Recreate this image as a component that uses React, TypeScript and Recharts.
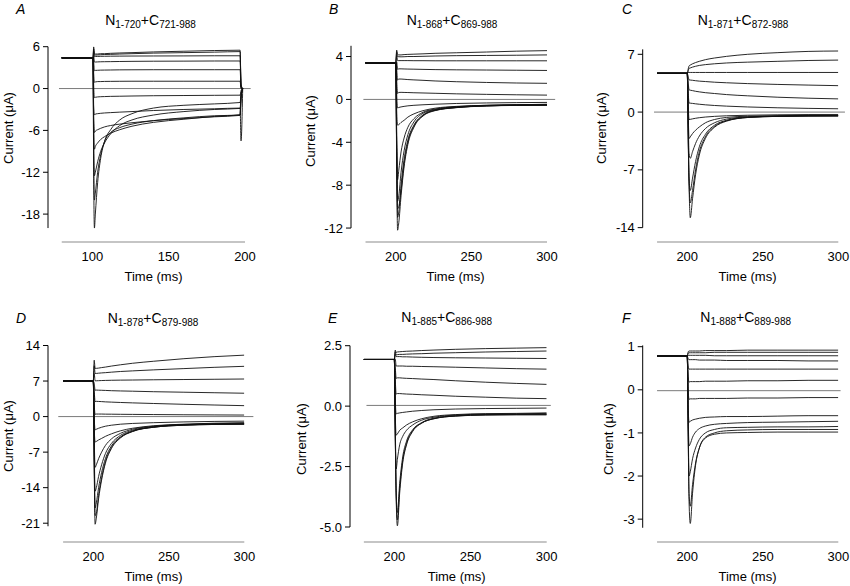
import React from 'react';
import { LineChart, Line, XAxis, YAxis, ReferenceLine } from 'recharts';

const FONT = '"Liberation Sans", Arial, Helvetica, sans-serif';
const YW = 40; // y axis area width
const XH = 30; // x axis area height

// sample times (ms) - panel A pulse is 100..197 ms, the others 200..300 ms
const timesA = [80, 100.5, 100.9, 101.4, 102, 103.5, 105.5, 108, 112, 118, 126, 140, 160, 180, 196.8, 197.4, 198.5];
const timesStep = [180, 200, 200.6, 201.2, 202, 203.5, 205.5, 208, 212, 218, 226, 240, 260, 280, 300];

// current traces (uA), one row per voltage step
const tracesA = [
  [4.4, 4.4, 6.0, 5.0, 4.95, 4.95, 5.0, 5.0, 5.05, 5.1, 5.15, 5.25, 5.35, 5.45, 5.5, 0.6, 0],
  [4.4, 4.4, 5.7, 4.8, 4.8, 4.82, 4.85, 4.88, 4.9, 4.95, 5.0, 5.08, 5.15, 5.22, 5.3, 0.4, 0],
  [4.4, 4.4, 5.4, 4.6, 4.6, 4.6, 4.62, 4.63, 4.64, 4.65, 4.66, 4.67, 4.68, 4.7, 4.7, 0.3, 0],
  [4.4, 4.4, 4.8, 3.8, 3.8, 3.82, 3.84, 3.85, 3.86, 3.88, 3.9, 3.92, 3.93, 3.95, 3.95, 0.2, 0],
  [4.4, 4.4, 3.8, 2.55, 2.6, 2.62, 2.64, 2.65, 2.66, 2.68, 2.69, 2.7, 2.7, 2.7, 2.7, 0.1, 0],
  [4.4, 4.4, 2.2, 0.9, 0.95, 1.0, 1.0, 1.02, 1.03, 1.04, 1.05, 1.05, 1.05, 1.05, 1.05, 0, 0],
  [4.4, 4.4, 0.5, -1.3, -1.25, -1.2, -1.17, -1.15, -1.12, -1.1, -1.07, -1.03, -1.0, -0.97, -0.95, -0.3, 0],
  [4.4, 4.4, -2.5, -3.8, -3.65, -3.6, -3.55, -3.5, -3.45, -3.38, -3.3, -3.15, -3.0, -2.9, -2.8, -7.5, 0],
  [4.4, 4.4, -4, -6.3, -6.1, -5.9, -5.7, -5.5, -5.3, -5.1, -4.9, -4.6, -4.3, -4.05, -3.85, -1.5, 0],
  [4.4, 4.4, -5, -8.7, -8.3, -7.8, -7.3, -6.9, -6.4, -5.9, -5.4, -4.85, -4.4, -4.0, -3.75, -1.2, 0],
  [4.4, 4.4, -7, -12.5, -12, -10.5, -9.0, -7.8, -6.5, -5.3, -4.5, -3.8, -3.3, -3.0, -2.85, -1, 0],
  [4.4, 4.4, -12, -20, -18, -13.5, -10, -7.6, -5.9, -4.5, -3.6, -2.8, -2.4, -2.2, -2.0, -0.8, 0],
  [4.4, 4.4, -10, -16, -15, -12, -9.5, -7.6, -6.3, -5.6, -5.1, -4.6, -4.2, -3.9, -3.8, -1.3, 0],
];

const tracesB = [
  [3.4, 3.4, 4.6, 4.2, 4.15, 4.15, 4.18, 4.2, 4.22, 4.25, 4.3, 4.35, 4.42, 4.5, 4.55],
  [3.4, 3.4, 4.4, 4.0, 3.98, 3.97, 3.98, 4.0, 4.0, 4.02, 4.05, 4.08, 4.1, 4.12, 4.15],
  [3.4, 3.4, 4.1, 3.62, 3.62, 3.62, 3.62, 3.62, 3.61, 3.61, 3.6, 3.6, 3.6, 3.6, 3.6],
  [3.4, 3.4, 3.5, 2.8, 2.85, 2.85, 2.84, 2.83, 2.82, 2.8, 2.78, 2.76, 2.74, 2.72, 2.7],
  [3.4, 3.4, 2.8, 1.8, 1.9, 1.9, 1.88, 1.85, 1.82, 1.78, 1.72, 1.65, 1.58, 1.53, 1.5],
  [3.4, 3.4, 1.8, 0.55, 0.65, 0.66, 0.65, 0.64, 0.62, 0.6, 0.57, 0.52, 0.47, 0.43, 0.4],
  [3.4, 3.4, 0.5, -0.8, -0.75, -0.7, -0.65, -0.6, -0.55, -0.5, -0.45, -0.38, -0.33, -0.3, -0.28],
  [3.4, 3.4, -1, -2.4, -2.35, -2.15, -1.95, -1.65, -1.35, -1.05, -0.82, -0.65, -0.55, -0.5, -0.48],
  [3.4, 3.4, -3, -7.5, -6.6, -4.9, -3.6, -2.6, -1.8, -1.2, -0.9, -0.68, -0.55, -0.5, -0.45],
  [3.4, 3.4, -4, -9.5, -9.0, -6.8, -4.8, -3.3, -2.1, -1.3, -0.95, -0.72, -0.57, -0.52, -0.5],
  [3.4, 3.4, -5, -11, -10.5, -8.0, -5.6, -3.8, -2.4, -1.45, -1.0, -0.75, -0.6, -0.55, -0.52],
  [3.4, 3.4, -6, -12.2, -11.5, -9.0, -6.3, -4.2, -2.6, -1.55, -1.05, -0.77, -0.62, -0.56, -0.55],
  [3.4, 3.4, -5, -10.2, -10, -8.5, -6.0, -4.0, -2.5, -1.5, -1.02, -0.76, -0.6, -0.55, -0.54],
];

const tracesC = [
  [4.7, 4.7, 5.2, 5.6, 5.7, 5.85, 6.0, 6.15, 6.35, 6.55, 6.75, 7.0, 7.2, 7.35, 7.4],
  [4.7, 4.7, 5.0, 5.3, 5.35, 5.45, 5.55, 5.65, 5.75, 5.85, 5.95, 6.05, 6.15, 6.25, 6.3],
  [4.7, 4.7, 4.8, 4.8, 4.8, 4.8, 4.8, 4.8, 4.8, 4.8, 4.8, 4.8, 4.8, 4.8, 4.8],
  [4.7, 4.7, 4.3, 3.9, 3.88, 3.85, 3.8, 3.75, 3.7, 3.62, 3.55, 3.45, 3.35, 3.27, 3.2],
  [4.7, 4.7, 3.6, 2.7, 2.65, 2.6, 2.52, 2.45, 2.35, 2.25, 2.12, 1.97, 1.8, 1.68, 1.6],
  [4.7, 4.7, 2.5, 1.1, 1.08, 1.05, 1.0, 0.95, 0.88, 0.8, 0.72, 0.62, 0.52, 0.45, 0.4],
  [4.7, 4.7, 1.0, -0.9, -0.88, -0.82, -0.75, -0.68, -0.6, -0.52, -0.45, -0.38, -0.33, -0.3, -0.3],
  [4.7, 4.7, 0, -3.2, -3.0, -2.6, -2.2, -1.8, -1.3, -0.9, -0.65, -0.5, -0.45, -0.4, -0.4],
  [4.7, 4.7, -1, -5.0, -5.6, -4.8, -3.8, -2.9, -2.0, -1.3, -0.85, -0.58, -0.48, -0.44, -0.42],
  [4.7, 4.7, -2, -8.0, -9.5, -8.0, -6.0, -4.2, -2.7, -1.6, -1.0, -0.62, -0.5, -0.46, -0.45],
  [4.7, 4.7, -2.5, -8.5, -11, -9.5, -7.0, -4.8, -3.0, -1.75, -1.05, -0.65, -0.52, -0.47, -0.46],
  [4.7, 4.7, -3, -9.0, -12.8, -10.5, -7.6, -5.2, -3.2, -1.85, -1.1, -0.66, -0.52, -0.48, -0.47],
];

const tracesD = [
  [7, 7, 11.1, 9.5, 9.5, 9.55, 9.65, 9.75, 9.95, 10.2, 10.5, 10.9, 11.4, 11.8, 12.1],
  [7, 7, 10, 8.5, 8.5, 8.55, 8.6, 8.65, 8.75, 8.88, 9.0, 9.2, 9.45, 9.7, 9.9],
  [7, 7, 8.5, 7.05, 7.05, 7.07, 7.1, 7.12, 7.15, 7.18, 7.2, 7.25, 7.3, 7.35, 7.4],
  [7, 7, 6.5, 5.2, 5.22, 5.2, 5.18, 5.15, 5.1, 5.05, 5.0, 4.9, 4.8, 4.7, 4.6],
  [7, 7, 5, 2.95, 3.0, 2.98, 2.95, 2.9, 2.85, 2.78, 2.7, 2.58, 2.42, 2.28, 2.15],
  [7, 7, 2.5, 0.45, 0.5, 0.5, 0.5, 0.48, 0.47, 0.45, 0.43, 0.4, 0.36, 0.33, 0.3],
  [7, 7, 0, -2.6, -2.5, -2.3, -2.1, -1.9, -1.7, -1.5, -1.35, -1.2, -1.05, -0.95, -0.9],
  [7, 7, -2, -5, -4.9, -4.6, -4.3, -3.9, -3.4, -2.8, -2.3, -1.8, -1.5, -1.3, -1.2],
  [7, 7, -4, -10, -9.5, -8.3, -7.0, -5.7, -4.4, -3.3, -2.5, -1.9, -1.55, -1.4, -1.3],
  [7, 7, -6, -14.7, -14, -11.8, -9.5, -7.3, -5.3, -3.7, -2.7, -2.0, -1.6, -1.45, -1.4],
  [7, 7, -8, -18, -17, -14, -11, -8.3, -5.8, -4.0, -2.85, -2.05, -1.65, -1.5, -1.45],
  [7, 7, -10, -21.2, -20, -16.2, -12.5, -9.2, -6.3, -4.2, -2.95, -2.1, -1.7, -1.55, -1.5],
  [7, 7, -9, -19.5, -19, -15.5, -12, -8.9, -6.1, -4.1, -2.9, -2.1, -1.7, -1.55, -1.5],
];

const tracesE = [
  [1.93, 1.93, 2.32, 2.22, 2.24, 2.25, 2.26, 2.27, 2.28, 2.3, 2.32, 2.35, 2.38, 2.4, 2.42],
  [1.93, 1.93, 2.25, 2.12, 2.13, 2.14, 2.14, 2.15, 2.16, 2.17, 2.19, 2.21, 2.24, 2.26, 2.28],
  [1.93, 1.93, 2.15, 2.05, 2.05, 2.05, 2.04, 2.04, 2.03, 2.02, 2.01, 2.0, 1.99, 1.98, 1.97],
  [1.93, 1.93, 1.95, 1.66, 1.66, 1.66, 1.66, 1.65, 1.65, 1.64, 1.63, 1.61, 1.58, 1.55, 1.53],
  [1.93, 1.93, 1.6, 1.15, 1.17, 1.17, 1.16, 1.15, 1.14, 1.12, 1.1, 1.05, 0.99, 0.94, 0.9],
  [1.93, 1.93, 1.1, 0.5, 0.52, 0.52, 0.51, 0.5, 0.49, 0.47, 0.45, 0.41, 0.37, 0.33, 0.31],
  [1.93, 1.93, 0.3, -0.32, -0.3, -0.28, -0.26, -0.24, -0.21, -0.18, -0.15, -0.12, -0.1, -0.09, -0.08],
  [1.93, 1.93, -0.3, -1.2, -1.15, -1.0, -0.9, -0.78, -0.65, -0.52, -0.42, -0.35, -0.31, -0.3, -0.28],
  [1.93, 1.93, -0.8, -2.6, -2.2, -1.6, -1.25, -1.0, -0.78, -0.58, -0.46, -0.37, -0.33, -0.32, -0.3],
  [1.93, 1.93, -1, -3.5, -4.4, -3.2, -2.1, -1.45, -0.98, -0.68, -0.5, -0.4, -0.35, -0.34, -0.33],
  [1.93, 1.93, -1.2, -3.8, -4.95, -3.6, -2.35, -1.6, -1.05, -0.7, -0.52, -0.41, -0.36, -0.35, -0.35],
  [1.93, 1.93, -1.1, -3.6, -4.7, -3.4, -2.25, -1.55, -1.02, -0.7, -0.52, -0.41, -0.37, -0.36, -0.36],
];

const tracesF = [
  [0.78, 0.78, 0.88, 0.9, 0.9, 0.9, 0.9, 0.9, 0.91, 0.91, 0.91, 0.92, 0.92, 0.92, 0.92],
  [0.78, 0.78, 0.85, 0.86, 0.86, 0.86, 0.86, 0.86, 0.86, 0.87, 0.87, 0.87, 0.87, 0.87, 0.87],
  [0.78, 0.78, 0.79, 0.8, 0.8, 0.8, 0.8, 0.8, 0.8, 0.79, 0.79, 0.79, 0.79, 0.79, 0.79],
  [0.78, 0.78, 0.72, 0.7, 0.7, 0.7, 0.7, 0.69, 0.69, 0.69, 0.68, 0.68, 0.68, 0.67, 0.67],
  [0.78, 0.78, 0.55, 0.48, 0.48, 0.48, 0.48, 0.48, 0.48, 0.48, 0.48, 0.48, 0.48, 0.48, 0.48],
  [0.78, 0.78, 0.3, 0.18, 0.19, 0.19, 0.19, 0.19, 0.2, 0.2, 0.2, 0.21, 0.21, 0.22, 0.22],
  [0.78, 0.78, 0, -0.22, -0.21, -0.21, -0.21, -0.2, -0.2, -0.2, -0.2, -0.19, -0.19, -0.18, -0.18],
  [0.78, 0.78, -0.4, -0.75, -0.73, -0.7, -0.68, -0.66, -0.64, -0.63, -0.62, -0.62, -0.61, -0.6, -0.6],
  [0.78, 0.78, -0.6, -1.3, -1.25, -1.1, -0.98, -0.9, -0.84, -0.8, -0.78, -0.76, -0.75, -0.74, -0.73],
  [0.78, 0.78, -0.8, -2.0, -1.9, -1.6, -1.35, -1.15, -1.0, -0.92, -0.88, -0.87, -0.86, -0.86, -0.85],
  [0.78, 0.78, -1, -2.6, -3.1, -2.4, -1.75, -1.35, -1.1, -1.0, -0.95, -0.93, -0.92, -0.92, -0.92],
  [0.78, 0.78, -0.9, -2.4, -2.7, -2.2, -1.7, -1.35, -1.12, -1.03, -1.0, -0.99, -0.98, -0.98, -0.98],
];

const xTicksA = [100, 150, 200];
const xTicksStep = [200, 250, 300];
const yTicksA = [6, 0, -6, -12, -18];
const yTicksB = [4, 0, -4, -8, -12];
const yTicksC = [7, 0, -7, -14];
const yTicksD = [14, 7, 0, -7, -14, -21];
const yTicksE = [2.5, 0, -2.5, -5];
const yTicksF = [1, 0, -1, -2, -3];

type Panel = {
  letter: string;
  nSub: string;
  cSub: string;
  times: number[];
  traces: number[][];
  xTicks: number[];
  yTicks: number[];
  fmt?: (v: number) => string;
  box: [number, number, number, number];
  plot: [number, number, number, number];
  xDomain: [number, number];
  yDomain: [number, number];
  xAxisRange: [number, number];
  yAxisRange: [number, number];
  zero: [number, number, number];
  title: [number, number];
  letterPos: [number, number];
  ylab: [number, number];
  xlab: [number, number];
};

const panels: Panel[] = [
  {
    letter: 'A', nSub: '1-720', cSub: '721-988', times: timesA, traces: tracesA,
    xTicks: xTicksA, yTicks: yTicksA,
    box: [0, 0, 290, 293], plot: [48, 245, 46.7, 242],
    xDomain: [71, 200], yDomain: [-22, 6], xAxisRange: [80, 200], yAxisRange: [-20, 6],
    zero: [78.2, 203.7, 0], title: [150.5, 25], letterPos: [16, 14], ylab: [13, 128], xlab: [153.5, 281],
  },
  {
    letter: 'B', nSub: '1-868', cSub: '869-988', times: timesStep, traces: tracesB,
    xTicks: xTicksStep, yTicks: yTicksB,
    box: [290, 0, 285, 293], plot: [351, 547, 45.8, 242],
    xDomain: [170.4, 300], yDomain: [-13.3, 5], xAxisRange: [180, 300], yAxisRange: [-12, 5],
    zero: [178.6, 305.4, 0], title: [452, 25], letterPos: [329, 14], ylab: [315, 131], xlab: [455.5, 281],
  },
  {
    letter: 'C', nSub: '1-871', cSub: '872-988', times: timesStep, traces: tracesC,
    xTicks: xTicksStep, yTicks: yTicksC,
    box: [575, 0, 275, 293], plot: [642.7, 838.3, 46.05, 242],
    xDomain: [170.5, 300], yDomain: [-15.74, 8], xAxisRange: [180, 300], yAxisRange: [-14, 7.6],
    zero: [178, 304.4, 0], title: [743, 25], letterPos: [622, 14], ylab: [606, 128], xlab: [747.5, 281],
  },
  {
    letter: 'D', nSub: '1-878', cSub: '879-988', times: timesStep, traces: tracesD,
    xTicks: xTicksStep, yTicks: yTicksD,
    box: [0, 293, 290, 293], plot: [48, 244.3, 345.5, 542],
    xDomain: [170, 300], yDomain: [-24.7, 14], xAxisRange: [180, 300], yAxisRange: [-21.6, 14],
    zero: [176.8, 306, 0], title: [153, 323], letterPos: [16, 323], ylab: [13, 436], xlab: [153.5, 581],
  },
  {
    letter: 'E', nSub: '1-885', cSub: '886-988', times: timesStep, traces: tracesE,
    xTicks: xTicksStep, yTicks: yTicksE, fmt: (v) => v.toFixed(1),
    box: [290, 293, 285, 293], plot: [350, 546.7, 345.7, 542],
    xDomain: [170.9, 300], yDomain: [-5.62, 2.5], xAxisRange: [180, 300], yAxisRange: [-5, 2.5],
    zero: [181.7, 302.7, 0.03], title: [446.7, 322], letterPos: [328, 323], ylab: [306, 439], xlab: [456.7, 581],
  },
  {
    letter: 'F', nSub: '1-888', cSub: '889-988', times: timesStep, traces: tracesF,
    xTicks: xTicksStep, yTicks: yTicksF,
    box: [575, 293, 275, 293], plot: [642.7, 838.3, 346.7, 542],
    xDomain: [170.5, 300], yDomain: [-3.53, 1], xAxisRange: [180, 300], yAxisRange: [-3.2, 1.03],
    zero: [180, 301.5, -0.02], title: [745.7, 322], letterPos: [622, 323], ylab: [613, 439], xlab: [747.5, 581],
  },
];

const tickStyle = { fontSize: 13, fill: '#000', fontFamily: FONT };

function TracePanel({ p }: { p: Panel }) {
  const [bl, bt, bw, bh] = p.box;
  const [x0, x1, y0, y1] = p.plot;
  const rows = p.times.map((t, i) => {
    const r: Record<string, number> = { t };
    p.traces.forEach((tr, k) => {
      r['s' + k] = tr[i];
    });
    return r;
  });
  const margin = {
    top: y0 - bt,
    left: x0 - bl - YW,
    right: bl + bw - x1,
    bottom: bt + bh - y1 - XH,
  };

  return (
    <div style={{ position: 'absolute', left: bl, top: bt }}>
      <LineChart width={bw} height={bh} data={rows} margin={margin}>
        <XAxis
          type="number"
          dataKey="t"
          domain={p.xDomain}
          allowDataOverflow
          ticks={p.xTicks}
          interval={0}
          axisLine={false}
          tickLine={false}
          tickSize={0}
          tickMargin={9.5}
          height={XH}
          tick={tickStyle}
        />
        <YAxis
          type="number"
          domain={p.yDomain}
          allowDataOverflow
          ticks={p.yTicks}
          interval={0}
          axisLine={false}
          tickLine={{ stroke: '#000' }}
          tickSize={5}
          tickMargin={3}
          width={YW}
          tick={tickStyle}
          tickFormatter={p.fmt ?? ((v: number) => String(v))}
        />
        {/* offset axes, drawn as segments */}
        <ReferenceLine
          segment={[{ x: p.xDomain[0], y: p.yAxisRange[0] }, { x: p.xDomain[0], y: p.yAxisRange[1] }]}
          stroke="#000"
          strokeWidth={1}
          ifOverflow="visible"
        />
        <ReferenceLine
          segment={[{ x: p.xAxisRange[0], y: p.yDomain[0] }, { x: p.xAxisRange[1], y: p.yDomain[0] }]}
          stroke="#8c8c8c"
          strokeWidth={1.2}
          ifOverflow="visible"
        />
        <ReferenceLine
          segment={[{ x: p.zero[0], y: p.zero[2] }, { x: p.zero[1], y: p.zero[2] }]}
          stroke="#7a7a7a"
          strokeWidth={1}
          ifOverflow="visible"
        />
        {p.traces.map((_, k) => (
          <Line
            key={k}
            dataKey={'s' + k}
            type="monotone"
            stroke="#111"
            strokeWidth={0.9}
            dot={false}
            isAnimationActive={false}
          />
        ))}
      </LineChart>
    </div>
  );
}

export default function App() {
  return (
    <div style={{ position: 'absolute', left: 0, top: 0, width: 850, height: 586, background: '#fff', fontFamily: FONT }}>
      {panels.map((p) => (
        <TracePanel key={p.letter} p={p} />
      ))}
      <svg width={850} height={586} style={{ position: 'absolute', left: 0, top: 0, pointerEvents: 'none' }} fontFamily={FONT}>
        {panels.map((p) => (
          <g key={p.letter}>
            <text x={p.letterPos[0]} y={p.letterPos[1]} fontSize={14} fontStyle="italic" fill="#000">
              {p.letter}
            </text>
            <text x={p.title[0]} y={p.title[1]} fontSize={14} textAnchor="middle" fill="#000">
              N
              <tspan fontSize={10} dy={3}>{p.nSub}</tspan>
              <tspan dy={-3}>+C</tspan>
              <tspan fontSize={10} dy={3}>{p.cSub}</tspan>
            </text>
            <text
              transform={`translate(${p.ylab[0]},${p.ylab[1]}) rotate(-90)`}
              fontSize={13}
              textAnchor="middle"
              fill="#000"
            >
              Current (μA)
            </text>
            <text x={p.xlab[0]} y={p.xlab[1]} fontSize={13} textAnchor="middle" fill="#000">
              Time (ms)
            </text>
          </g>
        ))}
      </svg>
    </div>
  );
}
